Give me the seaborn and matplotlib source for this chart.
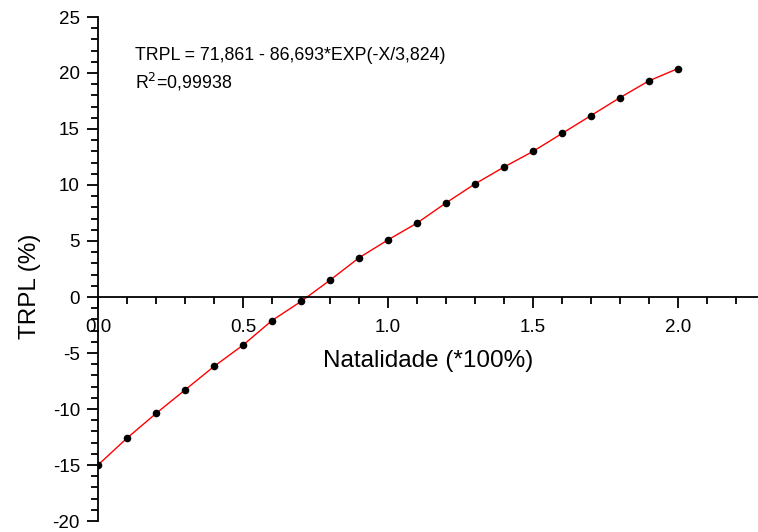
import matplotlib
matplotlib.use("Agg")
import matplotlib.pyplot as plt
import seaborn as sns
import pandas as pd
from matplotlib.ticker import MultipleLocator

natalidade = [0.0, 0.1, 0.2, 0.3, 0.4, 0.5, 0.6, 0.7, 0.8, 0.9, 1.0,
              1.1, 1.2, 1.3, 1.4, 1.5, 1.6, 1.7, 1.8, 1.9, 2.0]
trpl = [-15.0, -12.6, -10.4, -8.3, -6.2, -4.3, -2.1, -0.4, 1.5, 3.5, 5.1,
        6.6, 8.4, 10.1, 11.6, 13.0, 14.6, 16.2, 17.8, 19.3, 20.4]
equation = "TRPL = 71,861 - 86,693*EXP(-X/3,824)"
r2_text = "R$^2$=0,99938"

df = pd.DataFrame({"x": natalidade, "y": trpl})

sns.set_theme(style="white")
plt.rcParams["font.family"] = ["Liberation Sans", "DejaVu Sans"]

fig = plt.figure(figsize=(7.58, 5.32), dpi=100)
ax = fig.add_axes([98 / 758, 11 / 532, 660 / 758, 504 / 532])

sns.lineplot(data=df, x="x", y="y", color="red", linewidth=1.0, ax=ax, zorder=2)
sns.scatterplot(data=df, x="x", y="y", color="black", s=30, edgecolor="black",
                linewidth=0, ax=ax, zorder=3)

ax.set_xlim(0, 2.276)
ax.set_ylim(-20, 25)

ax.spines["top"].set_visible(False)
ax.spines["right"].set_visible(False)
ax.spines["bottom"].set_position(("data", 0))
for s in ("left", "bottom"):
    ax.spines[s].set_color("black")
    ax.spines[s].set_linewidth(1.3)

ax.xaxis.set_major_locator(MultipleLocator(0.5))
ax.xaxis.set_minor_locator(MultipleLocator(0.1))
ax.yaxis.set_major_locator(MultipleLocator(5))
ax.yaxis.set_minor_locator(MultipleLocator(1))
ax.xaxis.set_major_formatter(plt.FuncFormatter(lambda v, p: f"{v:.1f}"))
ax.yaxis.set_major_formatter(plt.FuncFormatter(lambda v, p: f"{v:.0f}"))

ax.tick_params(axis="both", which="major", direction="out", length=8, width=1.3,
               color="black", labelsize=13.5, labelcolor="black", bottom=True, left=True)
ax.tick_params(axis="both", which="minor", direction="out", length=5, width=1.3,
               color="black", bottom=True, left=True)
ax.tick_params(axis="x", which="major", pad=8)
ax.tick_params(axis="y", which="major", pad=5)

ax.set_xlabel("Natalidade (*100%)", fontsize=17.5, color="black")
ax.set_ylabel("TRPL (%)", fontsize=17.5, color="black")
ax.xaxis.set_label_coords(0.5, 0.34)
ax.yaxis.set_label_coords(-0.086, 0.465)

ax.text(0.128, 21.6, equation, fontsize=12.8, color="black", va="center", ha="left")
ax.text(0.128, 19.2, r2_text, fontsize=12.8, color="black", va="center", ha="left")

ax.grid(False)
fig.savefig("out.png", dpi=100)
